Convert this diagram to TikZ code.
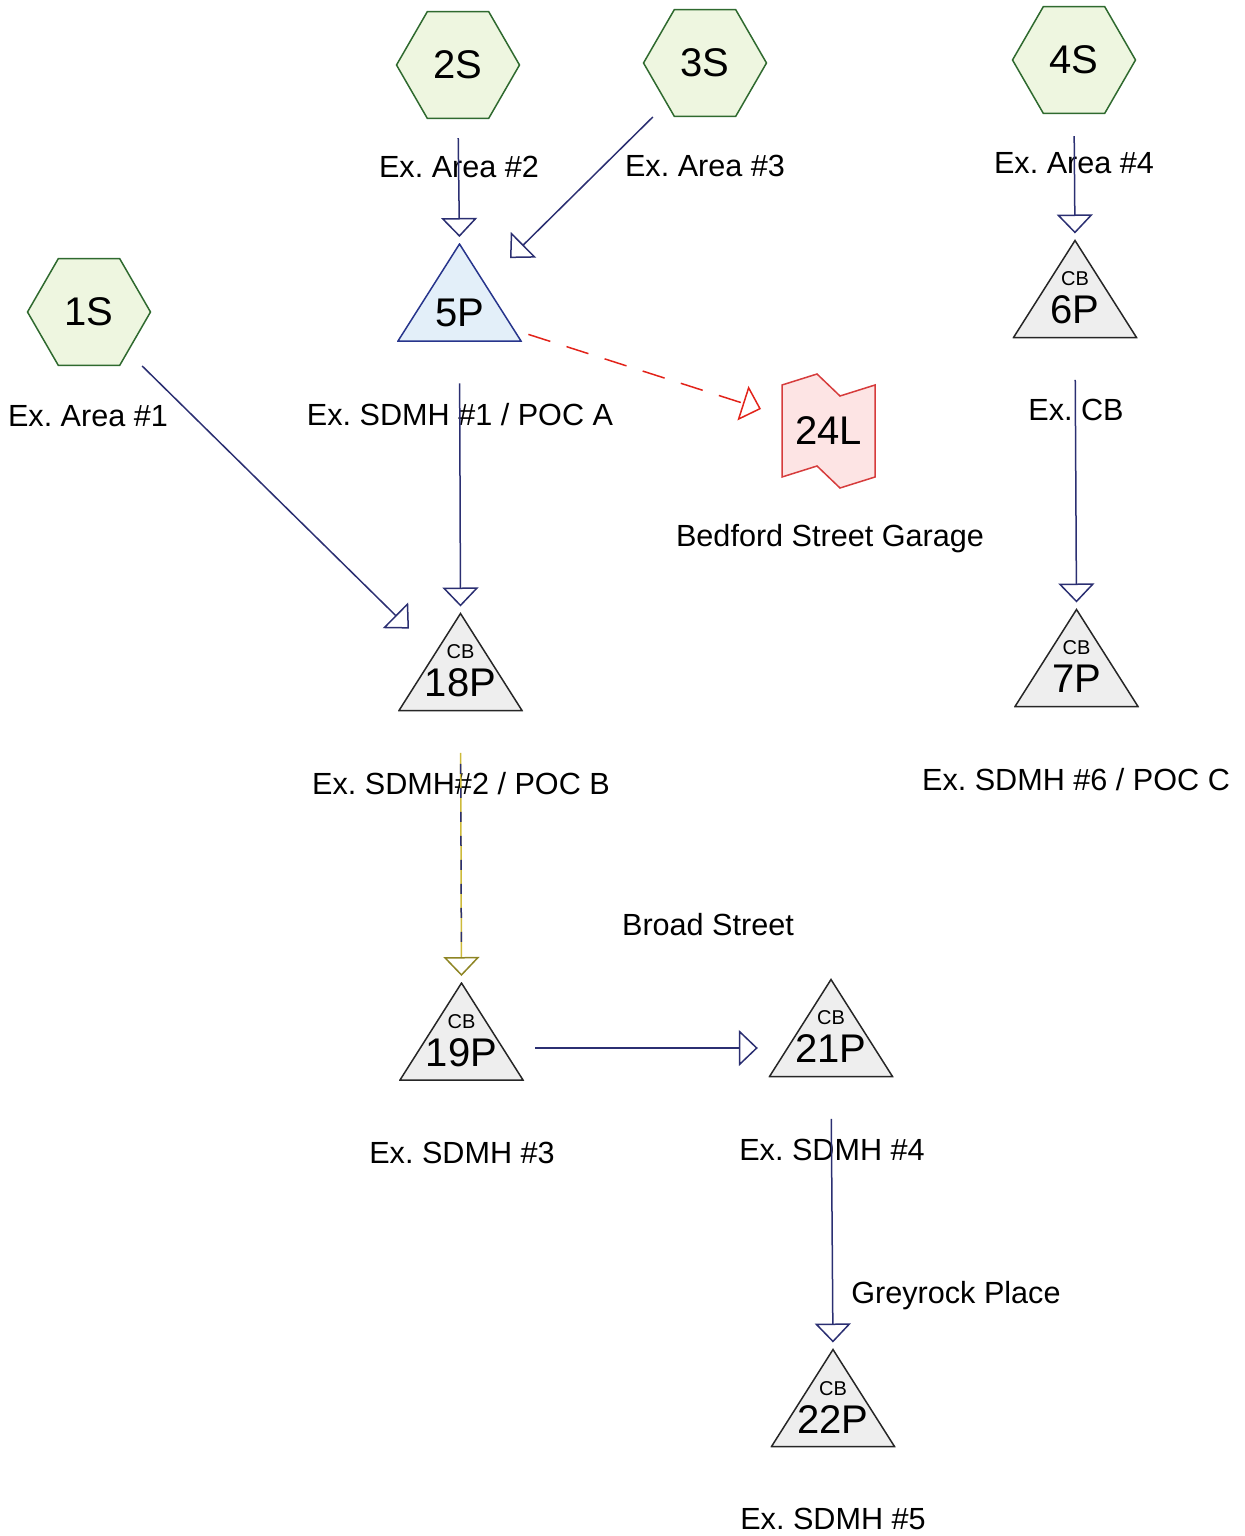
\documentclass[tikz,border=0pt]{standalone}
\usepackage{fontspec}
\setmainfont{Liberation Sans}
\frenchspacing
\usetikzlibrary{arrows.meta, shapes.geometric, calc}
\definecolor{pipeblue}{HTML}{2B2F72}
\definecolor{subfill}{HTML}{EEF6E0}
\definecolor{subedge}{HTML}{2F6A2F}
\definecolor{pondfill}{HTML}{EEEEEE}
\definecolor{pondfive}{HTML}{E3EFF9}
\definecolor{pondedge}{HTML}{27358C}
\definecolor{linkfill}{HTML}{FDE4E4}
\definecolor{linkedge}{HTML}{D63C3C}
\definecolor{dashred}{HTML}{E2231A}
\definecolor{swaleyel}{HTML}{CDBA3A}
\definecolor{swalehead}{HTML}{8E8524}
\newcommand{\lk}[2]{([shift={(#1pt,#2pt)}]path picture bounding box.center)}

\begin{document}
\begin{tikzpicture}[x=0.5pt, y=-0.5pt,
  every node/.style={font=\fontsize{15.3}{18}\selectfont},
  lbl/.style={inner sep=0pt, text depth=0pt},
  area/.style={regular polygon, regular polygon sides=6, minimum size=61.5pt,
    inner sep=0pt, draw=subedge, fill=subfill, line width=0.75pt,
    font=\fontsize{20}{20}\selectfont},
  tri/.style 2 args={rectangle, minimum width=62.5pt, minimum height=49.5pt, inner sep=0pt,
    path picture={\filldraw[draw=#1, fill=#2, line width=0.75pt]
      ([shift={(0.5pt,0.5pt)}]path picture bounding box.south west)
      -- ([yshift=-0.5pt]path picture bounding box.north)
      -- ([shift={(-0.5pt,0.5pt)}]path picture bounding box.south east) -- cycle;}},
  pondtext/.style={font=\fontsize{20}{20}\selectfont, inner sep=0pt},
  cbtext/.style={align=center, font=\fontsize{20}{19}\selectfont, inner sep=0pt, yshift=-4.5pt},
  cb/.style={tri={black!85}{pondfill}, label={[cbtext]center:{{\fontsize{10}{10}\selectfont CB}\\#1}}},
  link/.style={rectangle, minimum width=47.5pt, minimum height=58pt, inner sep=0pt,
    font=\fontsize{20}{20}\selectfont,
    path picture={\filldraw[draw=linkedge, fill=linkfill, line width=0.75pt]
      \lk{-23.25}{23} -- \lk{-5.75}{28.5} -- \lk{5.75}{17.5} -- \lk{23.25}{23}
      -- \lk{23.25}{-23} -- \lk{5.75}{-28.5} -- \lk{-5.75}{-17.5} -- \lk{-23.25}{-23} -- cycle;}},
  flow/.style={draw=pipeblue, line width=0.75pt,
    -{Triangle[length=9.5pt, width=18pt, fill=white]}},
  gap/.style={shorten <=20.5pt, shorten >=2.8pt}
]
  \useasboundingbox (0,0) rectangle (1244,1536);

  % Subcatchments
  \node[area] (s1) at (89,312) {1S};
  \node[area] (s2) at (458,65) {2S};
  \node[area] (s3) at (705,63) {3S};
  \node[area] (s4) at (1074,60) {4S};

  % Ponds
  \node[tri={pondedge}{pondfive}, label={[pondtext, yshift=-10pt]center:5P}] (p5) at (459.5,292.5) {};
  \node[cb=6P] (p6) at (1075,289) {};
  \node[cb=18P] (p18) at (460.5,662) {};
  \node[cb=7P] (p7) at (1076.5,658) {};
  \node[cb=19P] (p19) at (461.5,1031.5) {};
  \node[cb=21P] (p21) at (831,1028) {};
  \node[cb=22P] (p22) at (833,1398) {};

  % Link
  \node[link] (l24) at (828.5,431) {24L};

  % Labels
  \node[lbl] (a1) at (88,416) {Ex. Area \#1};
  \node[lbl] (a2) at (459,167) {Ex. Area \#2};
  \node[lbl] (a3) at (705,166) {Ex. Area \#3};
  \node[lbl] (a4) at (1074,163) {Ex. Area \#4};
  \node[lbl] (m1) at (460,414) {Ex. SDMH \#1 / POC A};
  \node[lbl] (gar) at (830,535) {Bedford Street Garage};
  \node[lbl] (cbl) at (1076,410) {Ex. CB};
  \node[lbl] (m2) at (461,783) {Ex. SDMH\#2 / POC B};
  \node[lbl] (m6) at (1076,779) {Ex. SDMH \#6 / POC C};
  \node[lbl] (broad) at (708,924) {Broad Street};
  \node[lbl] (m3) at (462,1153) {Ex. SDMH \#3};
  \node[lbl] (m4) at (832,1150) {Ex. SDMH \#4};
  \node[lbl] (grey) at (956,1292) {Greyrock Place};
  \node[lbl] (m5) at (833,1519) {Ex. SDMH \#5};

  % Arrows
  \draw[flow, shorten <=9.5pt, shorten >=2.8pt] (s2.south) -- (p5.north);
  \draw[flow] ([shift={(-21,0)}]s3.240) -- ([shift={(50.5,15.5)}]p5.north);
  \draw[flow, shorten <=11pt, shorten >=2.8pt] (s4.south) -- (p6.north);
  \draw[flow] ([shift={(22,0)}]s1.300) -- ([shift={(-51.5,16.5)}]p18.north);
  \draw[flow, gap] (p5.south) -- (p18.north);
  \draw[flow, gap] (p6.south) -- (p7.north);
  \draw[flow, gap, draw=swaleyel, -{Triangle[length=9.5pt, width=18pt, fill=white, color=swalehead]}]
    (p18.south) -- (p19.north);
  \draw[pipeblue, line width=0.75pt, dash pattern=on 5pt off 7pt, shorten <=26pt, shorten >=13pt]
    (p18.south) -- (p19.north);
  \draw[flow] ([shift={(11,16.5)}]p19.east) -- ([shift={(-10.3,20)}]p21.west);
  \draw[flow, gap] (p21.south) -- (p22.north);
  \draw[flow, draw=dashred, dash pattern=on 11.5pt off 8.5pt]
    ([shift={(6,-8)}]p5.south east) -- ([shift={(-19.6,-22)}]l24.west);
\end{tikzpicture}
\end{document}
